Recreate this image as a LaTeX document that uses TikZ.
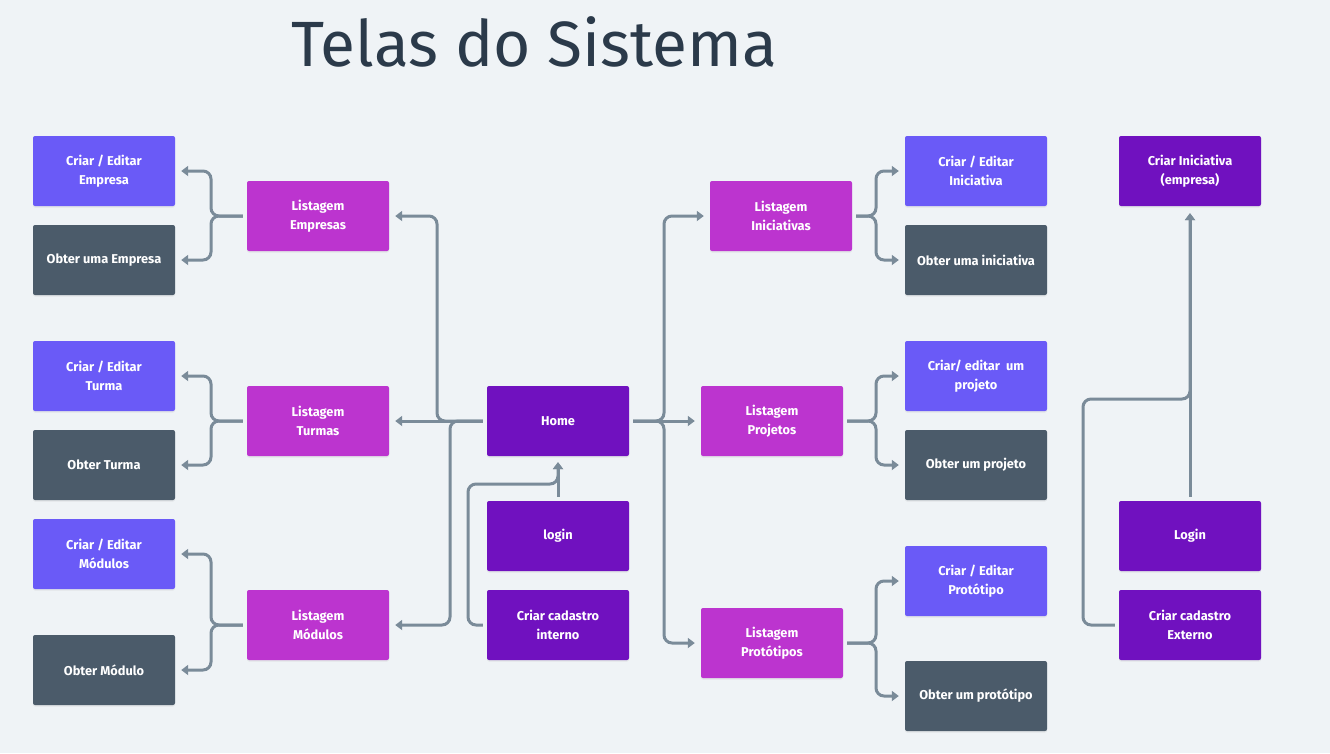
\documentclass[tikz,border=0pt]{standalone}
\usepackage{fontspec}
\setmainfont{Fira Sans}
\usetikzlibrary{arrows.meta,shadows,calc}
\definecolor{bg}{HTML}{EFF3F6}
\definecolor{cBlue}{HTML}{6A5AF7}
\definecolor{cMag}{HTML}{BC34CF}
\definecolor{cPur}{HTML}{7011BF}
\definecolor{cSlate}{HTML}{4B5B6A}
\definecolor{cLine}{HTML}{7A8B99}
\definecolor{cTitle}{HTML}{2B3A4A}
\begin{document}
\begin{tikzpicture}[x=1pt,y=-1pt,
  box/.style={minimum width=142pt, minimum height=70pt, rounded corners=2pt, text=white,
    font=\bfseries\fontsize{12.8}{18.5}\selectfont, align=center, inner sep=0pt,
    drop shadow={opacity=0.12, shadow xshift=0pt, shadow yshift=-1.5pt}},
  bluebox/.style={box, fill=cBlue},
  magbox/.style={box, fill=cMag},
  purbox/.style={box, fill=cPur},
  slatebox/.style={box, fill=cSlate},
  conn/.style={draw=cLine, line width=3pt, rounded corners=8pt},
  arr/.style={conn, -{Triangle[length=7pt,width=10pt]}}]
\fill[bg] (0,0) rectangle (1330,753);
\useasboundingbox (0,0) rectangle (1330,753);

\node[anchor=base west, text=cTitle, font=\fontsize{64}{70}\selectfont, inner sep=0pt] (title) at (291,66) {Telas do Sistema};

% left column
\node[bluebox] (ceE) at (104,171) {Criar / Editar\\Empresa};
\node[slatebox] (oE) at (104,260) {Obter uma Empresa};
\node[bluebox] (ceT) at (104,376) {Criar / Editar\\Turma};
\node[slatebox] (oT) at (104,465) {Obter Turma};
\node[bluebox] (ceM) at (104,554) {Criar / Editar\\Módulos};
\node[slatebox] (oM) at (104,670) {Obter Módulo};

% listagens left
\node[magbox] (lE) at (318,216) {Listagem\\Empresas};
\node[magbox] (lT) at (318,421) {Listagem\\Turmas};
\node[magbox] (lM) at (318,625) {Listagem\\Módulos};

% center
\node[purbox] (home) at (558,421) {Home};
\node[purbox] (login) at (558,536) {login};
\node[purbox] (cci) at (558,625) {Criar cadastro\\interno};

% listagens right
\node[magbox] (lI) at (781,216) {Listagem\\Iniciativas};
\node[magbox] (lP) at (772,421) {Listagem\\Projetos};
\node[magbox] (lPr) at (772,643) {Listagem\\Protótipos};

% right children
\node[bluebox] (ceI) at (976,171) {Criar / Editar\\Iniciativa};
\node[slatebox] (oI) at (976,260) {Obter uma iniciativa};
\node[bluebox] (ceP) at (976,376) {Criar/ editar\ \ um\\projeto};
\node[slatebox] (oP) at (976,465) {Obter um projeto};
\node[bluebox] (cePr) at (976,581) {Criar / Editar\\Protótipo};
\node[slatebox] (oPr) at (976,696) {Obter um protótipo};

% far right
\node[purbox] (ciE) at (1190,171) {Criar Iniciativa\\(empresa)};
\node[purbox] (loginE) at (1190,536) {Login};
\node[purbox] (cce) at (1190,625) {Criar cadastro\\Externo};

% left brackets
\draw[arr] ($(lE.west)+(-4,0)$) -- (211,216) |- ($(ceE.east)+(6,0)$);
\draw[arr] ($(lE.west)+(-4,0)$) -- (211,216) |- ($(oE.east)+(6,0)$);
\draw[arr] ($(lT.west)+(-4,0)$) -- (211,421) |- ($(ceT.east)+(6,0)$);
\draw[arr] ($(lT.west)+(-4,0)$) -- (211,421) |- ($(oT.east)+(6,0)$);
\draw[arr] ($(lM.west)+(-4,0)$) -- (211,625) |- ($(ceM.east)+(6,0)$);
\draw[arr] ($(lM.west)+(-4,0)$) -- (211,625) |- ($(oM.east)+(6,0)$);

% home to left
\draw[arr] ($(home.west)+(-4,0)$) -- ($(lT.east)+(6,0)$);
\draw[arr] ($(home.west)+(-4,0)$) -- (437,421) |- ($(lE.east)+(6,0)$);
\draw[arr] ($(home.west)+(-4,0)$) -- (450,421) |- ($(lM.east)+(6,0)$);

% home to right
\draw[arr] ($(home.east)+(4,0)$) -- ($(lP.west)+(-6,0)$);
\draw[arr] ($(home.east)+(4,0)$) -- (664,421) |- ($(lI.west)+(-6,0)$);
\draw[arr] ($(home.east)+(4,0)$) -- (664,421) |- ($(lPr.west)+(-6,0)$);

% right brackets
\draw[arr] ($(lI.east)+(4,0)$) -- (876,216) |- ($(ceI.west)+(-6,0)$);
\draw[arr] ($(lI.east)+(4,0)$) -- (876,216) |- ($(oI.west)+(-6,0)$);
\draw[arr] ($(lP.east)+(4,0)$) -- (876,421) |- ($(ceP.west)+(-6,0)$);
\draw[arr] ($(lP.east)+(4,0)$) -- (876,421) |- ($(oP.west)+(-6,0)$);
\draw[arr] ($(lPr.east)+(4,0)$) -- (876,643) |- ($(cePr.west)+(-6,0)$);
\draw[arr] ($(lPr.east)+(4,0)$) -- (876,643) |- ($(oPr.west)+(-6,0)$);

% login / cadastro interno to home
\draw[arr] ($(login.north)+(0,-4)$) -- ($(home.south)+(0,6)$);
\draw[arr] ($(cci.west)+(-4,0)$) -- (468,625) -- (468,484) -- (558,484) -- ($(home.south)+(0,6)$);

% far right
\draw[arr] ($(loginE.north)+(0,-4)$) -- ($(ciE.south)+(0,7)$);
\draw[arr] ($(cce.west)+(-4,0)$) -- (1083,625) -- (1083,399) -- (1190,399) -- ($(ciE.south)+(0,7)$);
\end{tikzpicture}
\end{document}
